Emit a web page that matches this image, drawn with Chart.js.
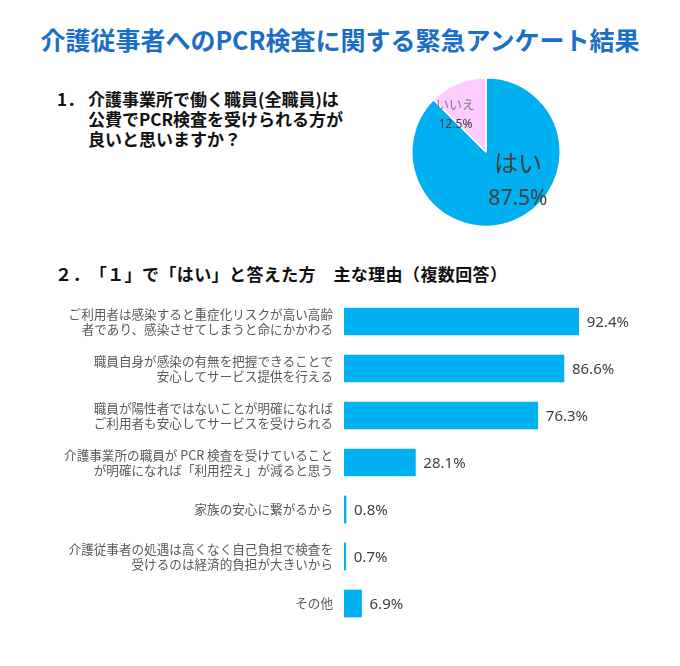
<!DOCTYPE html>
<html lang="ja">
<head>
<meta charset="utf-8">
<title>介護従事者へのPCR検査に関する緊急アンケート結果</title>
<script src="https://cdn.jsdelivr.net/npm/chart.js@4/dist/chart.umd.min.js"></script>
<style>
  html, body { margin: 0; padding: 0; background: #fff; }
  body { width: 680px; height: 666px; position: relative; overflow: hidden;
         font-family: "Noto Sans CJK JP", "Noto Sans", sans-serif; text-spacing-trim: space-all; }
  .title { position: absolute; left: 0; width: 680px; top: 22px; text-align: center;
           font-size: 25px; font-weight: bold; color: #1a6ec8; line-height: 34px; }
  .q { position: absolute; font-weight: bold; color: #111; font-size: 17px; }
  .q1 { left: 57px; top: 89px; line-height: 20px; }
  .q1 .num { position: absolute; left: 0; top: 0; }
  .q1 .txt { margin-left: 31px; }
  .q2 { left: 55px; top: 262px; line-height: 24px; letter-spacing: 0.4px; }
  #pie-wrap { position: absolute; left: 401px; top: 67px; width: 170px; height: 170px; }
  #bar-wrap { position: absolute; left: 0; top: 290px; width: 680px; height: 345px; }
</style>
</head>
<body>
<div class="title">介護従事者へのPCR検査に関する緊急アンケート結果</div>
<div class="q q1"><span class="num">1．</span><div class="txt">介護事業所で働く職員(全職員)は<br>公費でPCR検査を受けられる方が<br>良いと思いますか？</div></div>
<div class="q q2">２．「１」で「はい」と答えた方　主な理由（複数回答）</div>
<div id="pie-wrap"><canvas id="pie"></canvas></div>
<div id="bar-wrap"><canvas id="bar"></canvas></div>
<script>
// ---- data ----
const pieLabels = ['はい', 'いいえ'];
const pieValues = [87.5, 12.5];

const reasonLabels = [
  ['ご利用者は感染すると重症化リスクが高い高齢', '者であり、感染させてしまうと命にかかわる'],
  ['職員自身が感染の有無を把握できることで', '安心してサービス提供を行える'],
  ['職員が陽性者ではないことが明確になれば', 'ご利用者も安心してサービスを受けられる'],
  ['介護事業所の職員が PCR 検査を受けていること', 'が明確になれば「利用控え」が減ると思う'],
  '家族の安心に繋がるから',
  ['介護従事者の処遇は高くなく自己負担で検査を', '受けるのは経済的負担が大きいから'],
  'その他'
];
const reasonValues = [92.4, 86.6, 76.3, 28.1, 0.8, 0.7, 6.9];

const BLUE = '#00b0f0';
const PINK = '#ffccff';
const FONT = '"Noto Sans CJK JP", "Noto Sans", sans-serif';

// ---- pie labels: name + percent inside each slice ----
// position relative to pie centre, in fractions of the radius
const pieLabelStyle = [
  { fx: 0.43, fy: 0.15, nameSize: 24, valSize: 21, gap: 36, nameColor: '#404040' },
  { fx: -0.41, fy: -0.65, nameSize: 13, valSize: 12, gap: 21, nameColor: '#7f7f7f' }
];

const pieLabelPlugin = {
  id: 'pieLabels',
  afterDatasetsDraw(chart) {
    const ctx = chart.ctx;
    const meta = chart.getDatasetMeta(0);
    meta.data.forEach((arc, i) => {
      const s = pieLabelStyle[i];
      const x = arc.x + arc.outerRadius * s.fx;
      const y = arc.y + arc.outerRadius * s.fy;
      ctx.save();
      ctx.textAlign = 'center';
      ctx.textBaseline = 'middle';
      ctx.fillStyle = s.nameColor;
      ctx.font = s.nameSize + 'px ' + FONT;
      ctx.fillText(pieLabels[i], x, y);
      ctx.fillStyle = '#404040';
      ctx.font = s.valSize + 'px "Noto Sans", sans-serif';
      ctx.fillText(pieValues[i].toFixed(1) + '%', x, y + s.gap);
      ctx.restore();
    });
  }
};

new Chart(document.getElementById('pie'), {
  type: 'pie',
  data: {
    labels: pieLabels,
    datasets: [{
      data: pieValues,
      backgroundColor: [BLUE, PINK],
      borderColor: '#ffffff',
      borderWidth: 1.5
    }]
  },
  options: {
    responsive: true,
    maintainAspectRatio: false,
    animation: false,
    layout: { padding: 10 },
    plugins: { legend: { display: false }, tooltip: { enabled: false } }
  },
  plugins: [pieLabelPlugin]
});

// ---- bar value labels ----
const barValuePlugin = {
  id: 'barValues',
  afterDatasetsDraw(chart) {
    const ctx = chart.ctx;
    const meta = chart.getDatasetMeta(0);
    ctx.save();
    ctx.fillStyle = '#404040';
    ctx.font = '15px "Noto Sans", sans-serif';
    ctx.textAlign = 'left';
    ctx.textBaseline = 'middle';
    meta.data.forEach((bar, i) => {
      ctx.fillText(reasonValues[i].toFixed(1) + '%', bar.x + 8, bar.y + 1);
    });
    ctx.restore();
  }
};

new Chart(document.getElementById('bar'), {
  type: 'bar',
  data: {
    labels: reasonLabels,
    datasets: [{
      data: reasonValues,
      backgroundColor: BLUE,
      borderWidth: 0,
      barThickness: 27
    }]
  },
  options: {
    indexAxis: 'y',
    responsive: true,
    maintainAspectRatio: false,
    animation: false,
    layout: { padding: { top: 8, bottom: 8, left: 0, right: 82 } },
    scales: {
      x: { display: false, min: 0, max: 100 },
      y: {
        grid: { display: false, drawTicks: false },
        border: { display: false },
        afterFit(scale) {
          scale.width = 344;
          scale.paddingTop = 0;
          scale.paddingBottom = 0;
        },
        ticks: {
          padding: 11,
          color: '#595959',
          font: { family: FONT, size: 12.6, lineHeight: 1.2 }
        }
      }
    },
    plugins: { legend: { display: false }, tooltip: { enabled: false } }
  },
  plugins: [barValuePlugin]
});
</script>
</body>
</html>
